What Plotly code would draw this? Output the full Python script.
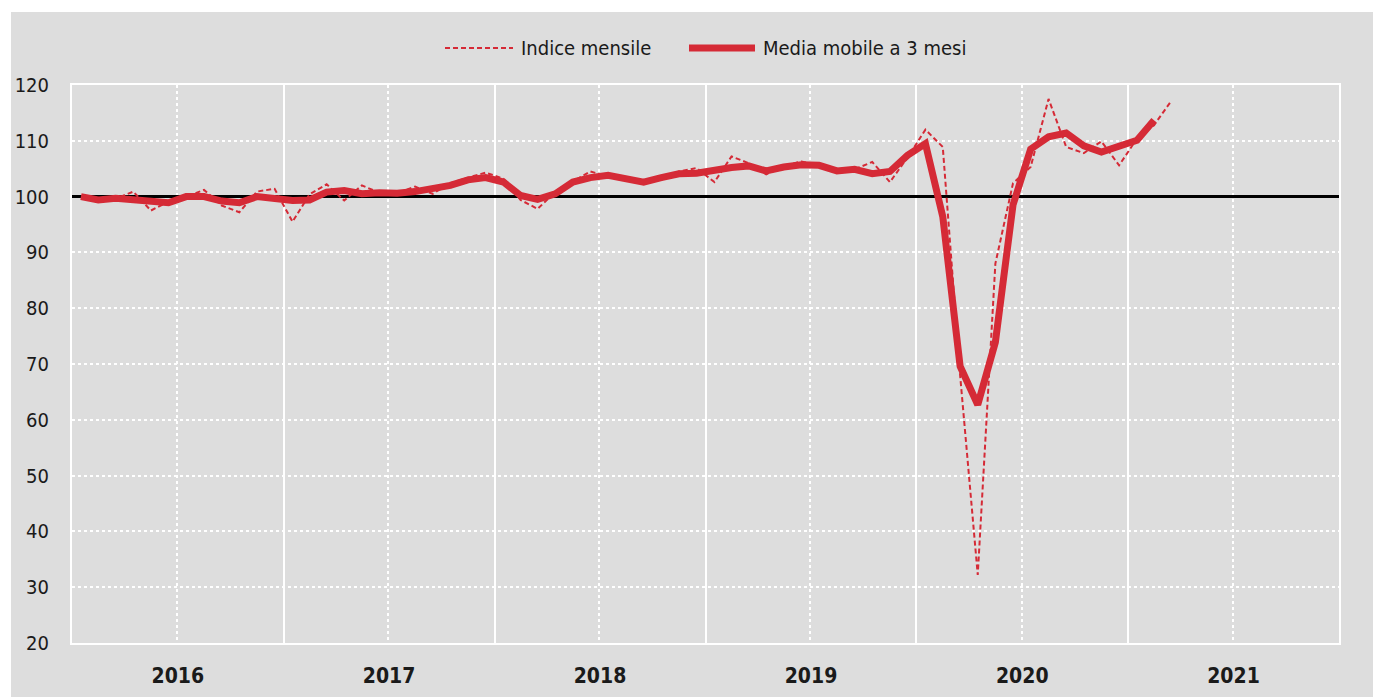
import pandas as pd
import plotly.graph_objects as go

# ---- data ----
months_monthly = pd.date_range("2016-01-01", periods=63, freq="MS").strftime("%Y-%m-%d").tolist()
months_avg = months_monthly[:62]

indice_mensile = [
    100.0, 99.5, 99.6, 100.9, 97.5, 99.1, 100.0, 101.2, 98.4, 97.2, 100.9, 101.4,   # 2016
    95.5, 100.4, 102.2, 99.3, 102.0, 100.7, 100.6, 101.8, 100.5, 102.4, 103.4, 104.3,  # 2017
    103.2, 99.4, 97.8, 100.8, 102.7, 104.5, 103.6, 103.2, 102.4, 103.0, 104.5, 105.1,  # 2018
    102.6, 107.2, 106.0, 104.0, 105.5, 106.3, 105.6, 104.4, 104.9, 106.2, 102.6, 107.0,  # 2019
    112.0, 108.9, 68.0, 32.2, 88.0, 102.4, 105.3, 117.5, 108.9, 107.8, 109.9, 105.6,  # 2020
    110.4, 112.8, 117.1,  # 2021
]

media_mobile_3m = [
    100.0, 99.4, 99.7, 99.4, 99.2, 98.9, 100.0, 100.0, 99.2, 98.9, 100.0, 99.5,   # 2016
    99.3, 99.4, 100.8, 101.1, 100.5, 100.7, 100.6, 100.9, 101.4, 102.0, 103.0, 103.4,  # 2017
    102.6, 100.2, 99.5, 100.5, 102.6, 103.4, 103.8, 103.2, 102.6, 103.4, 104.1, 104.2,  # 2018
    104.8, 105.2, 105.5, 104.6, 105.3, 105.7, 105.6, 104.6, 104.9, 104.1, 104.5, 107.4,  # 2019
    109.5, 96.4, 69.6, 62.7, 73.9, 98.5, 108.5, 110.7, 111.4, 109.1, 108.0, 109.1,  # 2020
    110.1, 113.7,  # 2021
]

series_names = ["Indice mensile", "Media mobile a 3 mesi"]
reference_level = 100
x_range = ["2016-01-01", "2022-01-01"]

# ---- styling ----
RED = "#d52a36"
GREY = "#dddddd"
FONT = "DejaVu Sans Condensed, Liberation Sans Narrow, sans-serif"
TXT = "#1a1a1a"

fig = go.Figure()

# reference line at 100
fig.add_trace(go.Scatter(
    x=x_range, y=[reference_level, reference_level], mode="lines",
    line=dict(color="black", width=3), showlegend=False, hoverinfo="skip",
))

fig.add_trace(go.Scatter(
    x=months_monthly, y=indice_mensile, name=series_names[0], mode="lines",
    xperiod="M1", xperiodalignment="middle",
    line=dict(color=RED, width=2, dash="5px,3px"), showlegend=False,
))
fig.add_trace(go.Scatter(
    x=months_avg, y=media_mobile_3m, name=series_names[1], mode="lines",
    xperiod="M1", xperiodalignment="middle",
    line=dict(color=RED, width=7), showlegend=False,
))

W, H = 1373, 697
ML, MR, MT, MB = 72, 34, 85, 54
pw, ph = W - ML - MR, H - MT - MB


def px_x(p):
    return (p - ML) / pw


def px_y(p):
    return (H - MB - p) / ph


shapes = [
    # grey panel behind everything
    dict(type="rect", xref="paper", yref="paper", layer="below",
         x0=px_x(11), x1=px_x(W + 2), y0=px_y(H + 2), y1=px_y(12),
         fillcolor=GREY, line=dict(width=0)),
    # legend samples
    dict(type="line", xref="paper", yref="paper",
         x0=px_x(445), x1=px_x(513), y0=px_y(48), y1=px_y(48),
         line=dict(color=RED, width=2, dash="5px,3px")),
    dict(type="line", xref="paper", yref="paper",
         x0=px_x(689), x1=px_x(755), y0=px_y(48), y1=px_y(48),
         line=dict(color=RED, width=7)),
]

annotations = [
    dict(xref="paper", yref="paper", x=px_x(519), y=px_y(48), xanchor="left", yanchor="middle",
         text=series_names[0], showarrow=False, font=dict(family=FONT, size=20, color=TXT)),
    dict(xref="paper", yref="paper", x=px_x(761), y=px_y(48), xanchor="left", yanchor="middle",
         text=series_names[1], showarrow=False, font=dict(family=FONT, size=20, color=TXT)),
]

fig.update_layout(
    width=W, height=H, autosize=False,
    margin=dict(l=ML, r=MR, t=MT, b=MB, pad=0, autoexpand=False),
    paper_bgcolor="white", plot_bgcolor=GREY,
    font=dict(family=FONT, color=TXT),
    showlegend=False,
    shapes=shapes, annotations=annotations,
    xaxis=dict(
        type="date", range=x_range, dtick="M12", tick0="2016-01-01",
        tickformat="%Y", ticklabelmode="period", automargin=False,
        showgrid=True, gridcolor="white", gridwidth=2,
        showline=True, linecolor="white", linewidth=2, mirror=True,
        ticks="", ticklabelstandoff=13, zeroline=False,
        tickfont=dict(family=FONT, size=21, color=TXT, weight="bold"),
        minor=dict(dtick="M6", tick0="2016-01-01", showgrid=True,
                   gridcolor="white", griddash="dot", gridwidth=2),
    ),
    yaxis=dict(
        range=[20, 120], dtick=10, tick0=0, automargin=False,
        showgrid=True, gridcolor="white", griddash="dot", gridwidth=2,
        showline=True, linecolor="white", linewidth=2, mirror=True,
        ticks="", ticklabelstandoff=17, zeroline=False,
        tickfont=dict(family=FONT, size=20, color=TXT),
    ),
)

fig.write_html(
    "out.html",
    config={"displayModeBar": False},
    post_script="document.body.style.margin='0';document.body.style.overflow='hidden';",
)
